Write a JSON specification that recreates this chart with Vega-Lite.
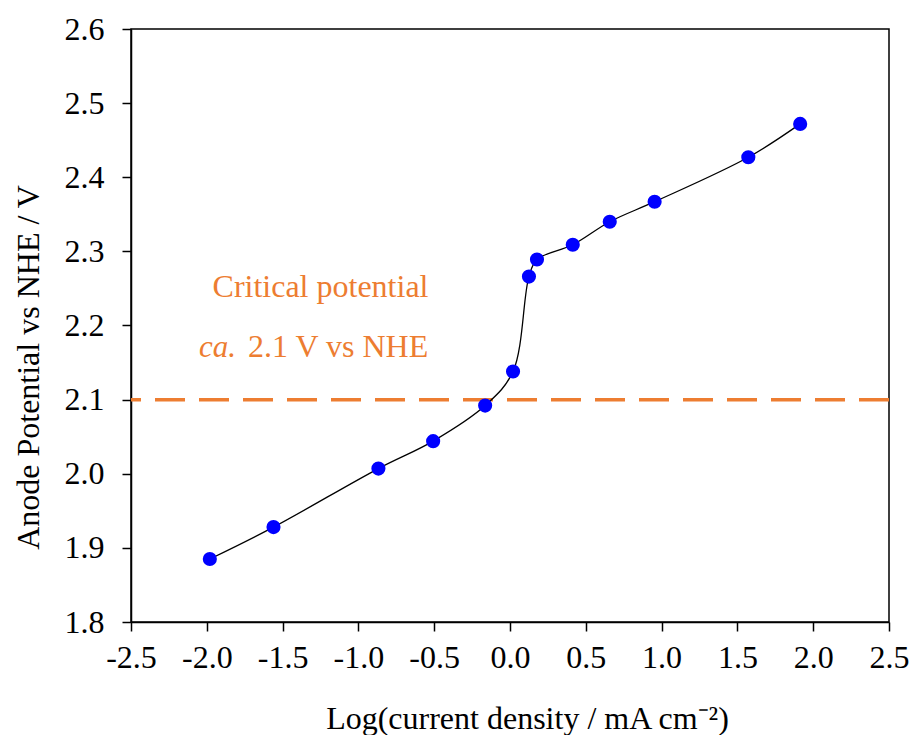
{
  "$schema": "https://vega.github.io/schema/vega-lite/v6.json",
  "autosize": "none",
  "width": 758,
  "height": 593,
  "padding": {"left": 131, "top": 29, "right": 21, "bottom": 113},
  "background": "white",
  "config": {
    "view": {"stroke": "black", "strokeWidth": 1.5},
    "font": "Liberation Serif",
    "axis": {
      "labelFont": "Liberation Serif",
      "titleFont": "Liberation Serif",
      "labelFontSize": 32,
      "titleFontSize": 32,
      "titleFontWeight": "normal",
      "labelColor": "black",
      "titleColor": "black",
      "domainColor": "black",
      "domainWidth": 1.5,
      "tickColor": "black",
      "tickWidth": 1.5,
      "tickSize": 9,
      "grid": false,
      "labelFlush": false,
      "labelOverlap": false
    }
  },
  "datasets": {
    "pts": [
      {"x": -1.98, "y": 1.885},
      {"x": -1.56, "y": 1.928},
      {"x": -0.868, "y": 2.007},
      {"x": -0.507, "y": 2.044},
      {"x": -0.164, "y": 2.092},
      {"x": 0.02, "y": 2.138},
      {"x": 0.125, "y": 2.266},
      {"x": 0.178, "y": 2.289},
      {"x": 0.414, "y": 2.309},
      {"x": 0.658, "y": 2.34},
      {"x": 0.954, "y": 2.367},
      {"x": 1.572, "y": 2.427},
      {"x": 1.914, "y": 2.472}
    ]
  },
  "layer": [
    {
      "data": {"values": [{"y": 2.1}]},
      "mark": {"type": "rule", "color": "#ED7D31", "strokeWidth": 3.5, "strokeDash": [30, 14]},
      "encoding": {"y": {"field": "y", "type": "quantitative"}}
    },
    {
      "data": {"name": "pts"},
      "mark": {"type": "line", "color": "black", "strokeWidth": 1.3, "interpolate": "catmull-rom"},
      "encoding": {
        "x": {"field": "x", "type": "quantitative", "scale": {"domain": [-2.5, 2.5], "nice": false},
          "axis": {"values": [-2.5, -2, -1.5, -1, -0.5, 0, 0.5, 1, 1.5, 2, 2.5], "format": ".1f", "labelExpr": "replace(datum.label, '−', '-')", "labelPadding": 11, "title": "Log(current density / mA cm⁻²)", "titlePadding": 30, "titleX": 396}},
        "y": {"field": "y", "type": "quantitative", "scale": {"domain": [1.8, 2.6], "nice": false, "zero": false},
          "axis": {"values": [1.8, 1.9, 2.0, 2.1, 2.2, 2.3, 2.4, 2.5, 2.6], "format": ".1f", "labelPadding": 18, "title": "Anode Potential vs NHE / V", "titlePadding": 19, "titleY": 338}}
      }
    },
    {
      "data": {"name": "pts"},
      "mark": {"type": "point", "filled": true, "color": "#0000FF", "opacity": 1, "size": 200},
      "encoding": {
        "x": {"field": "x", "type": "quantitative"},
        "y": {"field": "y", "type": "quantitative"}
      }
    },
    {
      "data": {"values": [{"x": -1.25, "y": 2.239, "t": "Critical potential"}]},
      "mark": {"type": "text", "color": "#ED7D31", "fontSize": 32, "font": "Liberation Serif", "align": "center", "baseline": "alphabetic"},
      "encoding": {
        "x": {"field": "x", "type": "quantitative"},
        "y": {"field": "y", "type": "quantitative"},
        "text": {"field": "t"}
      }
    },
    {
      "data": {"values": [{"x": -1.774, "y": 2.158, "t": "ca."}]},
      "mark": {"type": "text", "color": "#ED7D31", "fontSize": 31, "font": "Liberation Serif", "fontStyle": "italic", "align": "right", "baseline": "alphabetic", "dx": -5},
      "encoding": {
        "x": {"field": "x", "type": "quantitative"},
        "y": {"field": "y", "type": "quantitative"},
        "text": {"field": "t"}
      }
    },
    {
      "data": {"values": [{"x": -1.774, "y": 2.158, "t": "2.1 V vs NHE"}]},
      "mark": {"type": "text", "color": "#ED7D31", "fontSize": 32, "font": "Liberation Serif", "align": "left", "baseline": "alphabetic", "dx": 7},
      "encoding": {
        "x": {"field": "x", "type": "quantitative"},
        "y": {"field": "y", "type": "quantitative"},
        "text": {"field": "t"}
      }
    }
  ]
}
